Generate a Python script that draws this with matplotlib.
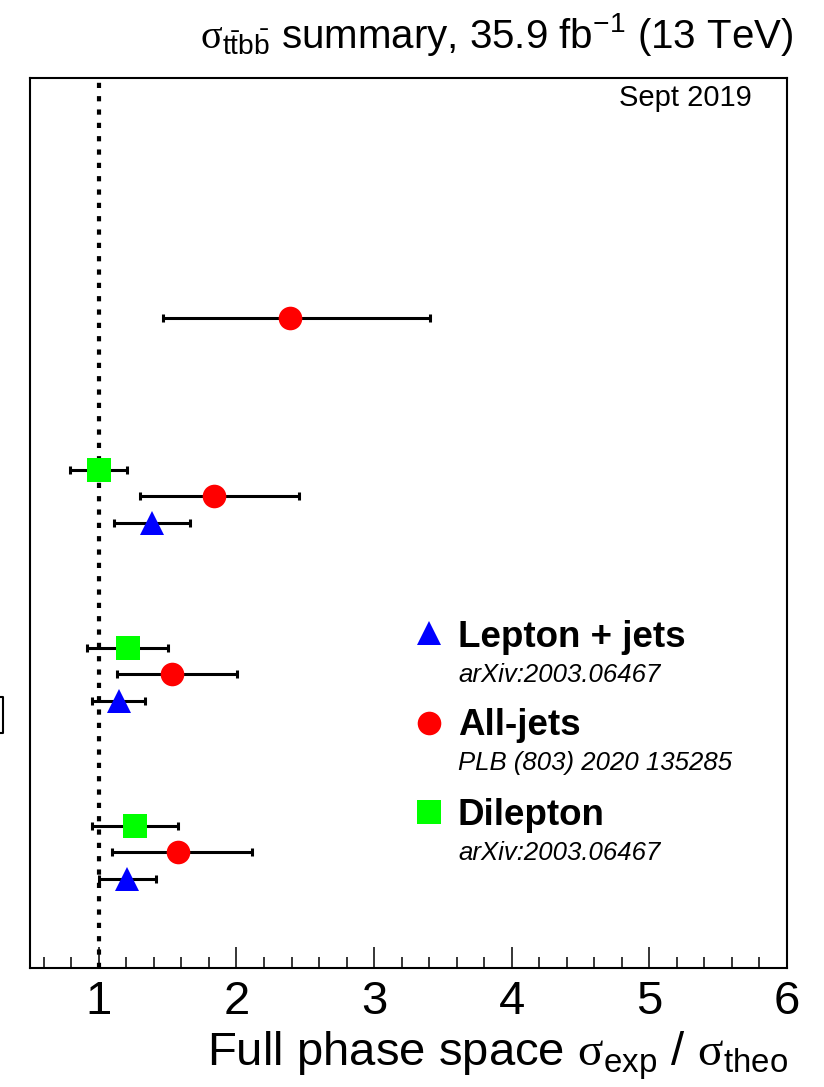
import numpy as np
import matplotlib
matplotlib.use("Agg")
import matplotlib.pyplot as plt
from matplotlib.lines import Line2D

plt.rcParams['font.family'] = 'Liberation Sans'
plt.rcParams['mathtext.fontset'] = 'custom'
plt.rcParams['mathtext.rm'] = 'Liberation Serif'
plt.rcParams['mathtext.sf'] = 'Liberation Sans'
plt.rcParams['mathtext.it'] = 'Liberation Sans:italic'

# measured ratios sigma_exp / sigma_theo, one row per phase-space bin (bottom to top)
lj_bin = [0, 1, 2]
lj_val = [1.206, 1.145, 1.383]
lj_lo = [1.000, 0.954, 1.107]
lj_hi = [1.413, 1.339, 1.661]

aj_bin = [0, 1, 2, 3]
aj_val = [1.572, 1.531, 1.836, 2.389]
aj_lo = [1.099, 1.133, 1.296, 1.463]
aj_hi = [2.112, 2.001, 2.456, 3.408]

dl_bin = [0, 1, 2]
dl_val = [1.264, 1.211, 1.000]
dl_lo = [0.948, 0.914, 0.794]
dl_hi = [1.572, 1.504, 1.206]

channels = ['Lepton + jets', 'All-jets', 'Dilepton']
refs = ['arXiv:2003.06467', 'PLB (803) 2020 135285', 'arXiv:2003.06467']
xticks = [1, 2, 3, 4, 5, 6]

W, H = 824, 1087
fig = plt.figure(figsize=(W / 100, H / 100), dpi=100)
ax = fig.add_axes([30 / W, 1 - 968 / H, 757 / W, 890 / H])


def axpos(px, py):
    # pixel position in the picture -> axes fraction
    return (px - 30) / 757, (968 - py) / 890


def draw(bins, val, lo, hi, off, marker, color):
    val = np.array(val)
    y = np.array(bins) + off
    xerr = [val - np.array(lo), np.array(hi) - val]
    ax.errorbar(val, y, xerr=xerr, fmt='none', ecolor='black', elinewidth=2.2,
                capsize=3, capthick=2.2, zorder=3)
    ax.plot(val, y, linestyle='none', marker=marker, color=color, ms=17,
            mew=0, zorder=4)


ax.axvline(1, color='black', lw=3.0, linestyle=(0, (1.25, 1.95)), zorder=2)
draw(dl_bin, dl_val, dl_lo, dl_hi, 0.15, 's', '#00ff00')
draw(aj_bin, aj_val, aj_lo, aj_hi, 0.0, 'o', '#ff0000')
draw(lj_bin, lj_val, lj_lo, lj_hi, -0.15, '^', '#0000ff')

ax.set_xlim(0.5, 6)
ax.set_ylim(-0.65, 4.35)
ax.set_xticks(xticks)
ax.set_xticks(np.arange(0.6, 6.0, 0.2), minor=True)
ax.set_xticklabels([str(t) for t in xticks])
ax.set_yticks([])
ax.tick_params(axis='x', which='major', direction='in', length=15, width=1.1,
               labelsize=34, pad=9)
ax.tick_params(axis='x', which='minor', direction='in', length=8, width=1.1)
for s in ax.spines.values():
    s.set_linewidth(1.5)

# legend drawn by hand
leg_y = [633, 723, 812]
leg_base = [646.7, 735, 825]
markers = [('^', '#0000ff'), ('o', '#ff0000'), ('s', '#00ff00')]
for i in range(3):
    mx, my = axpos(429, leg_y[i])
    ax.plot([mx], [my], marker=markers[i][0], color=markers[i][1], ms=17,
            mew=0, transform=ax.transAxes, clip_on=False)
    tx, ty = axpos(458, leg_base[i])
    ax.text(tx, ty, channels[i], transform=ax.transAxes, fontsize=26.5,
            fontweight='bold', va='baseline', ha='left')
    rx, ry = axpos(458, leg_base[i] + 35)
    ax.text(rx, ry, refs[i], transform=ax.transAxes, fontsize=18.5,
            style='italic', va='baseline', ha='left')

fig.text(752 / W, 1 - 106 / H, 'Sept 2019', fontsize=21, ha='right', va='baseline')
fig.text(793 / W, 1 - 48 / H,
         r'$\mathrm{\sigma}_{\mathsf{t\bar{t}b\bar{b}}}$ summary, 35.9 fb$^{\mathsf{-1}}$ (13 TeV)',
         fontsize=29, ha='right', va='baseline')
fig.text(788 / W, 1 - 1066 / H,
         r'Full phase space $\mathrm{\sigma}_{\mathsf{exp}}$ / $\mathrm{\sigma}_{\mathsf{theo}}$',
         fontsize=34, ha='right', va='baseline')
# fragment of a label cut by the left border
fig.add_artist(Line2D([0 / W, 2.5 / W, 2.5 / W, 0 / W],
                      [1 - 697 / H, 1 - 697 / H, 1 - 733 / H, 1 - 733 / H],
                      color='black', lw=1.5, transform=fig.transFigure))

fig.savefig('out.png', dpi=100)
